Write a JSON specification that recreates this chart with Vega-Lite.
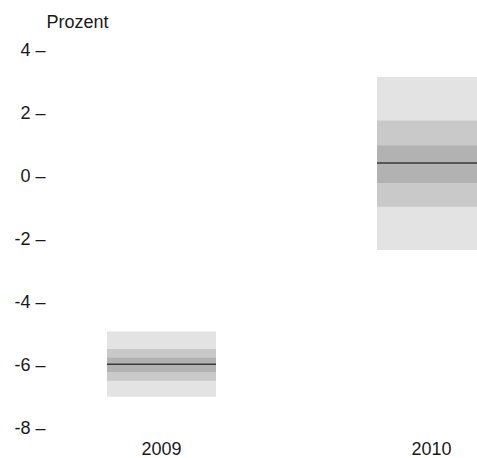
{
  "$schema": "https://vega.github.io/schema/vega-lite/v6.json",
  "autosize": {"type": "none"},
  "padding": {"left": 50, "top": 50, "right": 0, "bottom": 30},
  "width": 427,
  "height": 378,
  "background": "white",
  "config": {
    "view": {"stroke": null},
    "font": "Liberation Sans",
    "axis": {"labelFont": "Liberation Sans", "titleFont": "Liberation Sans", "labelColor": "#1a1a1a", "titleColor": "#1a1a1a", "grid": false, "domain": false, "ticks": false}
  },
  "datasets": {
    "bands": [
      {"year": "2009", "band": "aussen", "low": -7.01, "high": -4.94},
      {"year": "2010", "band": "aussen", "low": -2.35, "high": 3.14},
      {"year": "2009", "band": "mitte", "low": -6.5, "high": -5.49},
      {"year": "2010", "band": "mitte", "low": -0.98, "high": 1.76},
      {"year": "2009", "band": "innen", "low": -6.22, "high": -5.77},
      {"year": "2010", "band": "innen", "low": -0.22, "high": 0.97}
    ],
    "mid": [
      {"year": "2009", "value": -5.98},
      {"year": "2010", "value": 0.41}
    ]
  },
  "layer": [
    {
      "data": {"name": "bands"},
      "mark": {"type": "bar", "clip": true},
      "encoding": {
        "x": {
          "field": "year", "type": "nominal",
          "scale": {"domain": ["2009", "2010"], "range": [0, 493], "paddingInner": 0.5963, "paddingOuter": 0.2111},
          "axis": {"title": null, "labelAngle": 0, "labelFontSize": 18, "labelPadding": 12}
        },
        "y": {
          "field": "low", "type": "quantitative",
          "scale": {"domain": [-8, 4], "nice": false, "zero": false},
          "axis": {
            "values": [-8, -6, -4, -2, 0, 2, 4],
            "labelExpr": "toString(datum.value) + ' –'",
            "labelFontSize": 18,
            "labelPadding": 5,
            "title": "Prozent",
            "titleAngle": 0,
            "titleAlign": "left",
            "titleBaseline": "middle",
            "titleFontSize": 18,
            "titleFontWeight": "normal",
            "titleX": -4,
            "titleY": -28
          }
        },
        "y2": {"field": "high"},
        "color": {
          "field": "band", "type": "nominal",
          "scale": {"domain": ["aussen", "mitte", "innen"], "range": ["#e3e3e3", "#c9c9c9", "#b2b2b2"]},
          "legend": null
        }
      }
    },
    {
      "data": {"name": "mid"},
      "mark": {"type": "bar", "clip": true, "stroke": "#3a3a3a", "strokeWidth": 1.5, "fill": "#3a3a3a"},
      "encoding": {
        "x": {"field": "year", "type": "nominal"},
        "y": {"field": "value", "type": "quantitative"},
        "y2": {"field": "value"}
      }
    }
  ]
}
